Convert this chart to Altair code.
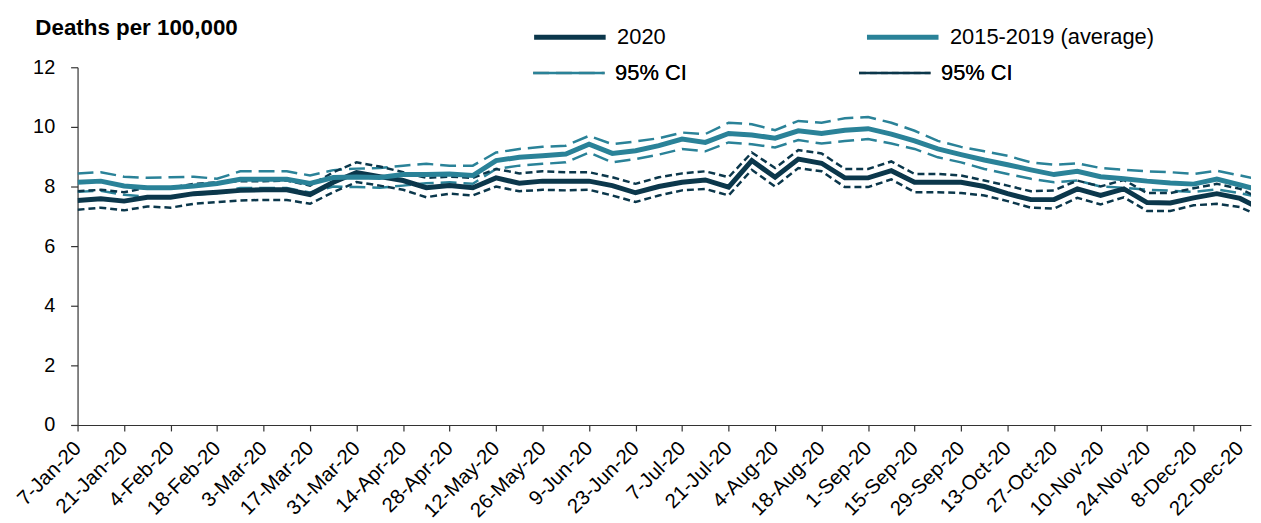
import altair as alt
import pandas as pd

# ---- data -------------------------------------------------------------
weeks = pd.date_range("2020-01-07", periods=52, freq="7D")
tick_weeks = weeks[::2]  # 7-Jan-20 ... 22-Dec-20

y2020 = [7.53, 7.59, 7.51, 7.64, 7.64, 7.76, 7.81, 7.87, 7.89, 7.89,
         7.73, 8.14, 8.47, 8.33, 8.20, 7.96, 8.03, 7.96, 8.29, 8.11,
         8.18, 8.18, 8.18, 8.03, 7.79, 8.00, 8.14, 8.22, 7.98, 8.87,
         8.31, 8.92, 8.78, 8.29, 8.29, 8.53, 8.14, 8.14, 8.14, 8.00,
         7.76, 7.56, 7.56, 7.92, 7.70, 7.92, 7.46, 7.45, 7.62, 7.76,
         7.60, 7.20]
y2020_hi = [7.84, 7.89, 7.81, 7.96, 7.96, 8.09, 8.14, 8.18, 8.18, 8.20,
            8.03, 8.48, 8.81, 8.67, 8.48, 8.29, 8.33, 8.29, 8.59, 8.44,
            8.51, 8.48, 8.48, 8.31, 8.09, 8.31, 8.44, 8.51, 8.31, 9.14,
            8.62, 9.22, 9.11, 8.59, 8.59, 8.84, 8.42, 8.42, 8.37, 8.20,
            8.03, 7.84, 7.87, 8.20, 8.00, 8.22, 7.78, 7.78, 7.94, 8.09,
            7.92, 7.55]
y2020_lo = [7.22, 7.29, 7.20, 7.33, 7.29, 7.42, 7.48, 7.53, 7.55, 7.55,
            7.42, 7.81, 8.15, 8.03, 7.89, 7.64, 7.76, 7.70, 8.00, 7.84,
            7.89, 7.87, 7.89, 7.70, 7.48, 7.70, 7.87, 7.92, 7.70, 8.56,
            8.00, 8.62, 8.51, 7.98, 7.98, 8.24, 7.81, 7.81, 7.78, 7.70,
            7.51, 7.29, 7.26, 7.62, 7.40, 7.64, 7.18, 7.18, 7.37, 7.42,
            7.31, 6.95]
avg = [8.14, 8.18, 8.02, 7.96, 7.96, 8.02, 8.10, 8.24, 8.24, 8.24,
       8.10, 8.30, 8.32, 8.30, 8.40, 8.40, 8.42, 8.37, 8.87, 8.98,
       9.03, 9.09, 9.42, 9.11, 9.20, 9.37, 9.59, 9.48, 9.78, 9.73,
       9.62, 9.87, 9.78, 9.89, 9.94, 9.76, 9.53, 9.26, 9.07, 8.89,
       8.73, 8.56, 8.40, 8.51, 8.33, 8.26, 8.18, 8.12, 8.08, 8.25,
       8.05, 7.85]
avg_hi = [8.44, 8.48, 8.33, 8.29, 8.31, 8.33, 8.26, 8.51, 8.51, 8.51,
          8.37, 8.55, 8.60, 8.62, 8.70, 8.76, 8.70, 8.70, 9.14, 9.26,
          9.33, 9.37, 9.70, 9.42, 9.51, 9.62, 9.81, 9.76, 10.14, 10.09,
          9.89, 10.20, 10.14, 10.29, 10.33, 10.14, 9.87, 9.53, 9.33, 9.18,
          9.03, 8.81, 8.73, 8.78, 8.62, 8.56, 8.51, 8.48, 8.42, 8.53,
          8.37, 8.20]
avg_lo = [7.82, 7.86, 7.72, 7.66, 7.66, 7.72, 7.78, 7.95, 7.95, 7.95,
          7.80, 8.00, 7.98, 7.96, 8.03, 8.11, 8.14, 8.09, 8.59, 8.70,
          8.76, 8.81, 9.14, 8.81, 8.92, 9.07, 9.26, 9.18, 9.48, 9.42,
          9.31, 9.56, 9.44, 9.53, 9.59, 9.44, 9.26, 8.98, 8.81, 8.59,
          8.42, 8.26, 8.14, 8.20, 8.00, 7.96, 7.89, 7.86, 7.82, 7.90,
          7.78, 7.60]

S2020 = "2020"
SAVG = "2015-2019 (average)"
CI_AVG = "95% CI"
CI_2020 = "95% CI "   # second legend entry with the same visible text

DARK = "#0B374B"
TEAL = "#2A8298"
FONT = "Liberation Sans"

dates = [d.strftime("%Y-%m-%d") for d in weeks]

main_rows = []
for d, a, b in zip(dates, y2020, avg):
    main_rows.append({"date": d, "series": S2020, "value": a})
    main_rows.append({"date": d, "series": SAVG, "value": b})
main_df = pd.DataFrame(main_rows)

ci_rows = []
for d, h1, l1, h2, l2 in zip(dates, avg_hi, avg_lo, y2020_hi, y2020_lo):
    ci_rows.append({"date": d, "ci": CI_AVG, "bound": "avg_hi", "value": h1})
    ci_rows.append({"date": d, "ci": CI_AVG, "bound": "avg_lo", "value": l1})
    ci_rows.append({"date": d, "ci": CI_2020, "bound": "y_hi", "value": h2})
    ci_rows.append({"date": d, "ci": CI_2020, "bound": "y_lo", "value": l2})
ci_df = pd.DataFrame(ci_rows)

ms = lambda ts: int(pd.Timestamp(ts).timestamp() * 1000)
x_start = ms(weeks[0])
x_end = x_start + int(50.47 * 7 * 86400000)
tick_vals = [ms(t) for t in tick_weeks]

x_enc = alt.X(
    "date:T",
    scale=alt.Scale(type="utc", domain=[x_start, x_end]),
    axis=alt.Axis(
        values=tick_vals, format="%-d-%b-%y", labelAngle=-45,
        labelAlign="right", labelBaseline="middle", labelPadding=14,
        labelFontSize=20.5, labelColor="#000", labelFont=FONT,
        tickSize=6, tickColor="#333", domainColor="#333", grid=False,
        title=None, labelOverlap=False, labelBound=False,
    ),
)
y_enc = alt.Y(
    "value:Q",
    scale=alt.Scale(domain=[0, 12], nice=False),
    axis=alt.Axis(
        values=[0, 2, 4, 6, 8, 10, 12], grid=False, tickSize=7,
        tickColor="#333", domainColor="#333", labelFontSize=20,
        labelColor="#000", labelFont=FONT, labelPadding=16,
        title="Deaths per 100,000", titleAngle=0, titleAlign="left",
        titleBaseline="alphabetic", titleX=-43, titleY=-33,
        titleFontSize=22.5, titleFontWeight="bold", titleFont=FONT,
        titleColor="#000",
    ),
)

common_legend = dict(
    title=None, orient="none", legendX=457, direction="horizontal",
    symbolType="stroke", symbolSize=5184, labelFontSize=22,
    labelFont=FONT, labelFontWeight="normal", labelColor="#000",
    labelOffset=9, labelLimit=0, padding=0,
)
ci_legend = alt.Legend(legendY=-32, symbolStrokeWidth=2.5, columnPadding=167,
                       **common_legend)
main_legend = alt.Legend(legendY=-69, symbolStrokeWidth=5, columnPadding=192,
                         **common_legend)

ci_layer = alt.Chart(ci_df).mark_line(clip=True, strokeWidth=2.5).encode(
    x=x_enc,
    y=y_enc,
    color=alt.Color("ci:N", scale=alt.Scale(domain=[CI_AVG, CI_2020], range=[TEAL, DARK]),
                    legend=ci_legend),
    strokeDash=alt.StrokeDash("ci:N", scale=alt.Scale(domain=[CI_AVG, CI_2020],
                                                     range=[[16, 7], [7, 4]]),
                              legend=ci_legend),
    detail="bound:N",
)

main_layer = alt.Chart(main_df).mark_line(clip=True, strokeWidth=5).encode(
    x=x_enc,
    y=y_enc,
    color=alt.Color("series:N", scale=alt.Scale(domain=[S2020, SAVG], range=[DARK, TEAL]),
                    legend=main_legend),
    order=alt.Order("series:N"),
)

chart = (
    alt.layer(ci_layer, main_layer)
    .resolve_scale(color="independent")
    .resolve_legend(color="independent")
    .properties(
        width=1181, height=360,
        autosize=alt.AutoSizeParams(type="none"),
        padding={"left": 70, "top": 58, "right": 2, "bottom": 97},
    )
    .configure_view(stroke=None)
    .configure_axis(domainWidth=1.2, tickWidth=1.2)
)

chart.save("out.html", embed_options={"renderer": "svg", "actions": False})
